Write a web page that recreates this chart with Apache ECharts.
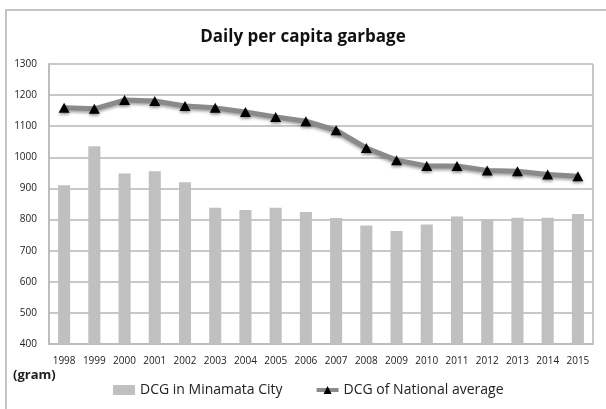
<!DOCTYPE html>
<html>
<head>
<meta charset="utf-8">
<style>
  html, body { margin: 0; padding: 0; background: #fff; }
  #chart { width: 606px; height: 409px; }
</style>
<script src="https://cdn.jsdelivr.net/npm/echarts@6/dist/echarts.min.js"></script>
</head>
<body>
<div id="chart"></div>
<script>
// Daily per capita garbage (grams): Minamata City vs national average
const years = ['1998','1999','2000','2001','2002','2003','2004','2005','2006',
               '2007','2008','2009','2010','2011','2012','2013','2014','2015'];
const minamata = [910, 1036, 948, 955, 920, 838, 831, 838, 824,
                  805, 781, 763, 784, 810, 800, 806, 806, 818];
const national = [1159, 1156, 1184, 1181, 1165, 1159, 1146, 1130, 1116,
                  1087, 1030, 991, 972, 972, 958, 955, 945, 939];
const yTicks = { min: 400, max: 1300, interval: 100 };

const FONT = 'Open Sans';
const chart = echarts.init(document.getElementById('chart'), null, { renderer: 'canvas' });

chart.setOption({
  backgroundColor: '#ffffff',
  animation: false,
  title: {
    text: 'Daily per capita garbage',
    left: 'center',
    top: 24,
    textStyle: { fontFamily: FONT, fontSize: 17, fontWeight: 'bold', color: '#111' }
  },
  legend: {
    bottom: 7,
    left: 108,
    itemGap: 32,
    itemWidth: 22,
    itemHeight: 10,
    textStyle: { fontFamily: FONT, fontSize: 14, color: '#222' },
    data: [
      { name: 'DCG in Minamata City', icon: 'rect' },
      { name: 'DCG of National average', lineStyle: { width: 4, color: '#8a8a8a' } }
    ]
  },
  grid: { left: 49, right: 13, top: 64, bottom: 65 },
  xAxis: {
    type: 'category',
    data: years,
    axisLine: { lineStyle: { color: '#bdbdbd', width: 2 } },
    axisTick: { show: false },
    axisLabel: { fontFamily: FONT, fontSize: 10, color: '#222', margin: 12, interval: 0 }
  },
  yAxis: {
    type: 'value',
    min: yTicks.min,
    max: yTicks.max,
    interval: yTicks.interval,
    axisLine: { show: true, lineStyle: { color: '#bdbdbd', width: 2 } },
    axisTick: { show: false },
    axisLabel: { fontFamily: FONT, fontSize: 10, color: '#222', margin: 12, formatter: v => String(v) },
    splitLine: { lineStyle: { color: '#c8c8c8', width: 2 } }
  },
  series: [
    {
      name: 'DCG in Minamata City',
      type: 'bar',
      data: minamata,
      barWidth: '40%',
      itemStyle: { color: '#c0c0c0' }
    },
    {
      name: 'DCG of National average',
      type: 'line',
      data: national,
      symbol: 'triangle',
      symbolSize: [11, 10],
      lineStyle: { color: '#8a8a8a', width: 5, shadowColor: 'rgba(0,0,0,0.35)', shadowBlur: 3, shadowOffsetY: 2 },
      itemStyle: { color: '#000', borderWidth: 0, shadowColor: 'rgba(0,0,0,0.35)', shadowBlur: 3, shadowOffsetY: 2 },
      z: 5
    }
  ]
});

// outer frame, unit note and the right border of the plot area
const grid = chart.getModel().getComponent('grid').coordinateSystem.getRect();
chart.setOption({
  graphic: [
    { type: 'rect', shape: { x: 6, y: 10, width: 640, height: 440 },
      style: { fill: 'none', stroke: '#c4c4c4', lineWidth: 2 }, silent: true },
    { type: 'text', left: 13, top: 369,
      style: { text: '(gram)', fontFamily: FONT, fontSize: 13, fontWeight: 'bold', fill: '#222' } },
    { type: 'line', shape: { x1: grid.x + grid.width, y1: grid.y, x2: grid.x + grid.width, y2: grid.y + grid.height },
      style: { stroke: '#c8c8c8', lineWidth: 2 }, silent: true }
  ]
});
</script>
</body>
</html>
